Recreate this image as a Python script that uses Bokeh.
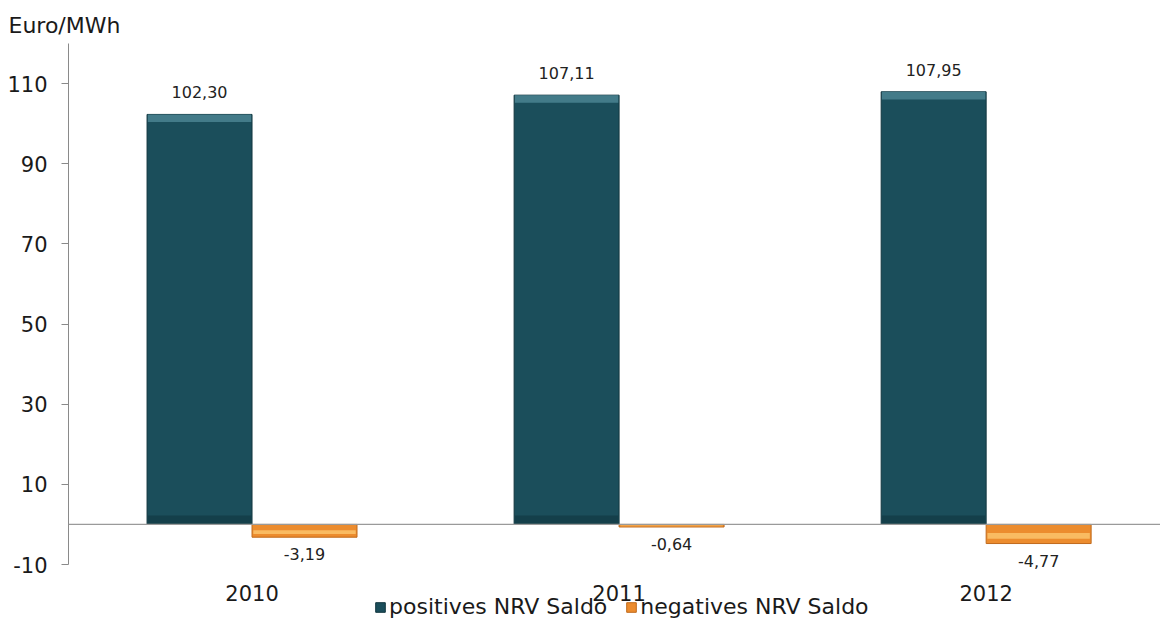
from bokeh.plotting import figure
from bokeh.models import Range1d, FixedTicker, Span, Legend, LegendItem, ColumnDataSource
from bokeh.embed import file_html
from bokeh.resources import INLINE
from bokeh.core.properties import value

years = ["2010", "2011", "2012"]
positives = [102.30, 107.11, 107.95]
negatives = [-3.19, -0.64, -4.77]
y_ticks = [-10, 10, 30, 50, 70, 90, 110]

FONT = "DejaVu Sans"
TEAL = "#1b4e5b"
TEAL_LIGHT = "#4a8492"
ORANGE = "#ec8c2e"
ORANGE_LIGHT = "#fbc068"
TXT = "#1a1a1a"

Y_MIN, Y_MAX = -10, 120

idx = [i + 0.5 for i in range(len(years))]
bw = 0.286
xp = [c - bw / 2 for c in idx]
xn = [c + bw / 2 for c in idx]

def fmt(v):
    return f"{v:.2f}".replace(".", ",")

# frame spans down to the bottom of the page; the y axis is bounded to [-10, 120]
p = figure(frame_width=1092, frame_height=581, output_backend="svg", toolbar_location=None,
           x_range=Range1d(0, 2.975), y_range=Range1d(-24.97, Y_MAX),
           min_border_left=68, min_border_right=0, min_border_top=43, min_border_bottom=0,
           title="Euro/MWh")
p.outline_line_color = None
p.xgrid.visible = False
p.ygrid.visible = False
p.title.align = "left"
p.title.offset = -60
p.title.standoff = 11
p.title.text_font = FONT
p.title.text_font_size = "22px"
p.title.text_font_style = "normal"
p.title.text_color = TXT

# zero line
p.add_layout(Span(location=0, dimension="width", line_color="#9a9a9a", line_width=1.2))

sp = ColumnDataSource(dict(x=xp, top=positives, bottom=[0] * 3))
sn = ColumnDataSource(dict(x=xn, top=[0] * 3, bottom=negatives))
rp = p.vbar(x="x", top="top", bottom="bottom", width=bw, source=sp,
            fill_color=TEAL, line_color="#12363f", line_width=1)
rn = p.vbar(x="x", top="top", bottom="bottom", width=bw, source=sn,
            fill_color=ORANGE, line_color="#c06a1c", line_width=1)

# bevel highlights
p.vbar(x=xp, top=positives, bottom=[v - 1.9 for v in positives], width=bw * 0.985,
       fill_color=TEAL_LIGHT, line_color=None, fill_alpha=0.85)
p.vbar(x=xp, top=[2.2] * 3, bottom=[0] * 3, width=bw * 0.985,
       fill_color="#143e48", line_color=None, fill_alpha=0.9)
p.vbar(x=xn, top=[v * 0.45 for v in negatives], bottom=[v * 0.75 for v in negatives], width=bw * 0.975,
       fill_color=ORANGE_LIGHT, line_color=None, fill_alpha=0.9)

# value labels
p.text(x=xp, y=positives, text=[fmt(v) for v in positives], text_align="center",
       text_baseline="bottom", y_offset=-16, text_font=value(FONT), text_font_size="16px",
       text_color="#222222")
p.text(x=xn, y=negatives, text=[fmt(v) for v in negatives], text_align="center",
       text_baseline="top", y_offset=11, text_font=value(FONT), text_font_size="16px",
       text_color="#222222")

# category labels
p.text(x=idx, y=[Y_MIN] * len(years), text=years, text_align="center", text_baseline="middle",
       y_offset=28, text_font=value(FONT), text_font_size="21px", text_color=TXT)

# axes
ya = p.yaxis[0]
ya.ticker = FixedTicker(ticks=y_ticks)
ya.major_label_overrides = {t: str(t) for t in y_ticks}
ya.bounds = (Y_MIN, Y_MAX)
ya.minor_tick_line_color = None
ya.major_tick_in = 0
ya.major_tick_out = 7
ya.axis_line_color = "#8a8a8a"
ya.major_tick_line_color = "#8a8a8a"
ya.major_label_text_font = FONT
ya.major_label_text_font_size = "21px"
ya.major_label_text_color = TXT
ya.major_label_standoff = 14

p.xaxis.visible = False

legend = Legend(items=[LegendItem(label="positives NRV Saldo", renderers=[rp]),
                       LegendItem(label="negatives NRV Saldo", renderers=[rn])],
                orientation="horizontal", location=(306, 5),
                border_line_color=None, background_fill_alpha=0,
                label_text_font=FONT, label_text_font_size="22px", label_text_color=TXT,
                glyph_width=12, glyph_height=12, label_standoff=3, spacing=18,
                padding=0, margin=0, label_height=20)
p.add_layout(legend)

open("out.html", "w").write(file_html(p, INLINE))
